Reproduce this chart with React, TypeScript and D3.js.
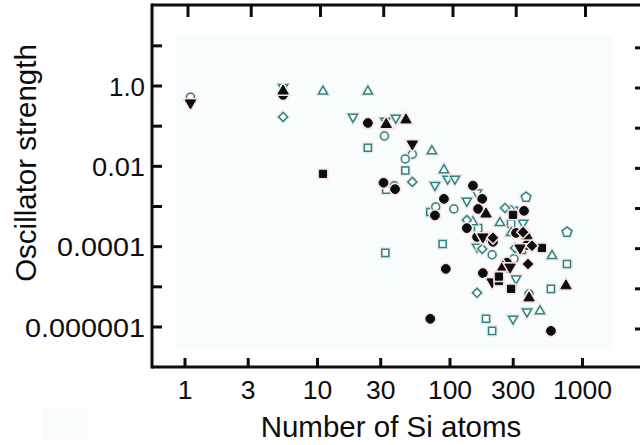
import React, { useEffect } from "react";
import * as d3 from "d3";

// ---- axis values ----
const xTickValues = [1, 3, 10, 30, 100, 300, 1000];
const xTickLabels = ["1", "3", "10", "30", "100", "300", "1000"];
const yTickValues = [10, 1, 0.1, 0.01, 0.001, 0.0001, 0.00001, 0.000001];
const yLabelValues = [1, 0.01, 0.0001, 0.000001];
const yLabelTexts = ["1.0", "0.01", "0.0001", "0.000001"];

// ---- data: [number of Si atoms, oscillator strength] ----
const openSquare = [
  [24, 0.029], [46, 0.0079], [33, 0.0026], [71, 0.00073], [163, 0.00029],
  [304, 0.00078], [289, 0.00037], [349, 8.3e-5], [764, 3.7e-5], [88, 1.17e-4],
  [32.5, 7.0e-5], [578, 8.9e-6], [187, 1.6e-6], [208, 8.0e-7],
];
const openCircle = [
  [1.1, 0.53], [32, 0.057], [52, 0.02], [46, 0.0153], [38, 0.0033],
  [107, 0.00087], [78, 0.00098], [284, 0.00082], [184, 1.66e-4], [208, 6.3e-5],
  [304, 5.0e-5], [395, 6.7e-6],
];
const openPentagon = [[375, 0.0017], [764, 0.00023]];
const openTriUp = [
  [11, 0.73], [24, 0.73], [73, 0.024], [90, 0.0081], [149, 0.00041],
  [238, 0.00039], [289, 0.00022], [589, 5.9e-5], [478, 2.5e-6],
];
const openTriDown = [
  [5.5, 0.94], [18.5, 0.17], [32.5, 0.135], [39, 0.16], [96, 0.0049],
  [109, 0.0049], [77, 0.0034], [160, 0.0022], [134, 0.00138], [356, 0.00039],
  [160, 9.9e-5], [315, 1.6e-5], [381, 2.4e-6], [299, 1.6e-6],
];
const openDiamond = [
  [5.5, 0.17], [52, 0.0041], [260, 0.00092], [134, 0.00046], [175, 8.8e-5],
  [310, 9.3e-5], [160, 7.1e-6],
];
const filledCircle = [
  [5.5, 0.6], [24, 0.12], [31.5, 0.0039], [38.5, 0.0027], [90, 0.00155],
  [77, 0.0006], [149, 0.0033], [175, 0.00155], [163, 0.00087], [362, 0.00078],
  [134, 0.00029], [315, 0.00022], [160, 1.75e-4], [194, 1.75e-4], [211, 1.32e-4],
  [381, 1.1e-4], [274, 3.0e-5], [93, 2.8e-5], [177, 2.2e-5], [71, 1.6e-6],
  [578, 8.0e-7], [269, 4.0e-5],
];
const filledTriUp = [
  [5.5, 0.75], [33, 0.11], [46.5, 0.143], [187, 0.00065], [750, 1.06e-5],
  [395, 5.3e-6], [381, 1.86e-4], [251, 3.1e-5],
];
const filledTriDown = [
  [1.1, 0.38], [52, 0.036], [208, 1.33e-5], [177, 1.75e-4], [338, 9.3e-5], [284, 3.1e-5],
];
const filledSquare = [
  [11, 0.0065], [494, 9.3e-5], [234, 1.4e-5], [289, 8.9e-6], [299, 0.00062], [234, 1.8e-5],
];
const filledDiamond = [[388, 3.7e-5], [416, 1.05e-4], [211, 1.66e-4], [356, 0.00023]];

// ---- layout ----
const W = 640;
const H = 445;
const axisLeft = 152;
const axisTop = 5;
const axisBottom = 367;
const axisRight = 645;
const FONT = "'Liberation Sans', Arial, Helvetica, sans-serif";
const TEAL = "#268787";
const INK = "#0d0d0d";

const x = d3.scaleLog().domain([1, 1000]).range([185, 582.5]);
const y = d3.scaleLog().domain([0.000001, 1]).range([327, 86]);

const pentagon = {
  draw(ctx: any, size: number) {
    const r = Math.sqrt(size / 2.378);
    for (let i = 0; i < 5; i++) {
      const a = -Math.PI / 2 + (i * 2 * Math.PI) / 5;
      const px = r * Math.cos(a);
      const py = r * Math.sin(a);
      if (i === 0) ctx.moveTo(px, py);
      else ctx.lineTo(px, py);
    }
    ctx.closePath();
  },
};

type Series = {
  data: number[][];
  type: any;
  size: number;
  rotate: number;
  filled: boolean;
};

const series: Series[] = [
  { data: openSquare, type: d3.symbolSquare, size: 50, rotate: 0, filled: false },
  { data: openCircle, type: d3.symbolCircle, size: 48, rotate: 0, filled: false },
  { data: openPentagon, type: pentagon, size: 60, rotate: 0, filled: false },
  { data: openTriUp, type: d3.symbolTriangle, size: 36, rotate: 0, filled: false },
  { data: openTriDown, type: d3.symbolTriangle, size: 36, rotate: 180, filled: false },
  { data: openDiamond, type: d3.symbolSquare, size: 40, rotate: 45, filled: false },
  { data: filledCircle, type: d3.symbolCircle, size: 60, rotate: 0, filled: true },
  { data: filledTriUp, type: d3.symbolTriangle, size: 46, rotate: 0, filled: true },
  { data: filledTriDown, type: d3.symbolTriangle, size: 46, rotate: 180, filled: true },
  { data: filledSquare, type: d3.symbolSquare, size: 52, rotate: 0, filled: true },
  { data: filledDiamond, type: d3.symbolSquare, size: 42, rotate: 45, filled: true },
];

const yLabelWidths: Record<string, number> = {
  "1.0": 36,
  "0.01": 53,
  "0.0001": 88,
  "0.000001": 120,
};

export default function App() {
  useEffect(() => {
    document.body.style.margin = "0";
  }, []);

  return (
    <svg
      width={W}
      height={H}
      viewBox={`0 0 ${W} ${H}`}
      style={{ position: "absolute", left: 0, top: 0, display: "block", background: "#fff" }}
      fontFamily={FONT}
    >
      <rect x={0} y={0} width={W} height={H} fill="#ffffff" />
      {/* plot area tint */}
      <rect x={175} y={35} width={438} height={315} fill="#f9fcfd" />
      <rect x={42} y={408} width={46} height={32} fill="#f9fcfd" />

      {/* markers */}
      {series.map((s, si) => {
        const path = d3.symbol().type(s.type).size(s.size)() as string;
        return (
          <g key={si}>
            {s.data.map((d, i) => (
              <g
                key={i}
                transform={`translate(${x(d[0])},${y(d[1])}) rotate(${s.rotate})`}
              >
                <path d={path} fill="none" stroke="#f8e2e2" strokeWidth={4} />
                <path
                  d={path}
                  fill={s.filled ? INK : "#ffffff"}
                  stroke={s.filled ? INK : TEAL}
                  strokeWidth={s.filled ? 1 : 1.5}
                  strokeLinejoin="miter"
                />
              </g>
            ))}
          </g>
        );
      })}

      {/* frame */}
      <g stroke={INK} strokeWidth={3} fill="none">
        <line x1={axisLeft} y1={axisTop - 1.5} x2={axisLeft} y2={axisBottom + 1.5} />
        <line x1={axisLeft} y1={axisBottom} x2={axisRight} y2={axisBottom} />
        <line x1={axisLeft} y1={axisTop} x2={axisRight} y2={axisTop} />
        <line x1={axisRight} y1={axisTop} x2={axisRight} y2={axisBottom} />
      </g>

      {/* ticks */}
      <g stroke={INK} strokeWidth={3}>
        {xTickValues.map((v, i) => (
          <line key={"b" + i} x1={x(v)} x2={x(v)} y1={axisBottom} y2={axisBottom - 9} />
        ))}
        {xTickValues.map((v, i) => (
          <line key={"t" + i} x1={x(v) + 3} x2={x(v) + 3} y1={axisTop} y2={axisTop + 12} />
        ))}
        {yTickValues.map((v, i) => (
          <line key={"l" + i} x1={axisLeft} x2={axisLeft + 10} y1={y(v)} y2={y(v)} />
        ))}
        {yTickValues.map((v, i) => (
          <line key={"r" + i} x1={axisRight - 10} x2={axisRight} y1={y(v) + 2} y2={y(v) + 2} />
        ))}
      </g>

      {/* x tick labels */}
      <g fontSize={26.5} fill={INK} textAnchor="middle">
        {xTickValues.map((v, i) => (
          <text key={i} x={x(v)} y={399}>
            {xTickLabels[i]}
          </text>
        ))}
      </g>

      {/* y tick labels */}
      <g fontSize={25.5} fill={INK} textAnchor="end">
        {yLabelValues.map((v, i) => (
          <text
            key={i}
            x={145}
            y={y(v) + 9.5}
            textLength={yLabelWidths[yLabelTexts[i]]}
            lengthAdjust="spacingAndGlyphs"
          >
            {yLabelTexts[i]}
          </text>
        ))}
      </g>

      {/* axis titles */}
      <text x={391} y={437} fontSize={29.5} textAnchor="middle" fill={INK}>
        Number of Si atoms
      </text>
      <text
        transform="translate(36,163) rotate(-90)"
        fontSize={29.5}
        textAnchor="middle"
        fill={INK}
      >
        Oscillator strength
      </text>
    </svg>
  );
}
